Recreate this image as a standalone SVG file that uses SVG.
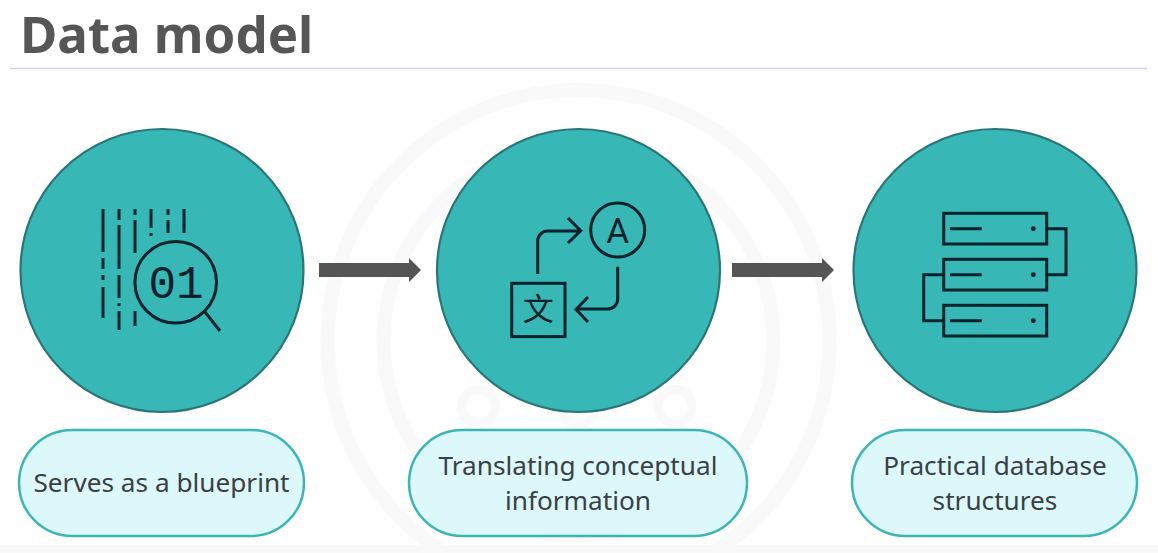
<svg xmlns="http://www.w3.org/2000/svg" width="1158" height="553" viewBox="0 0 1158 553">
<defs>
<style>
.main{fill:#38b7b7;stroke:#2a7577;stroke-width:2.2}
.pill{fill:#dcf8fa;stroke:#3db5b5;stroke-width:2.5}
.label{font-family:"Noto Sans","Liberation Sans",sans-serif;font-size:26.2px;fill:#3b4046;text-anchor:middle}
.ic{fill:none;stroke:#06222a;stroke-width:3}
.ring{fill:none;stroke:#f9f9fa}
.arrow{fill:#555}
.glyph{fill:#06222a;text-anchor:middle}
</style>
</defs>
<rect width="1158" height="553" fill="#fefefe"/>
<rect y="545" width="1158" height="8" fill="#f9f9f9"/>
<g id="watermark">
<circle class="ring" cx="578.5" cy="341" r="251" stroke-width="14"/>
<circle class="ring" cx="578.5" cy="341" r="195" stroke-width="14"/>
<circle class="ring" cx="478.500" cy="406.5" r="17" stroke-width="9"/>
<circle class="ring" cx="675" cy="406.5" r="17" stroke-width="9"/>
<circle class="ring" cx="578.5" cy="408" r="17" stroke-width="9"/>
</g>
<g id="title">
<text x="20" y="53" font-family="'Noto Sans','Liberation Sans',sans-serif" font-size="51px" font-weight="700" fill="#565656">Data model</text>
<line x1="10" y1="68.5" x2="1147" y2="68.5" stroke="#d5d2e8" stroke-width="1.5"/>
</g>
<g id="connectors">
<path class="arrow" d="M319 263H409V258L421 270L409 282V277H319Z"/>
<path class="arrow" d="M732 263H822V258L834 270L822 282V277H732Z"/>
</g>
<g id="node-blueprint">
<circle class="main" cx="162" cy="270.5" r="141.5"/>
<path class="ic" d="M103 209V252M103 258V269M103 275V280M103 287V318M119 209V220M119 225V269M119 275V298M119 303V306M119 311V330M135 209V215M135 220V253M135 311V326M151 209V228M151 233V236M168 209V215M168 220V233M184 209V233M205 312L220 331"/>
<circle class="ic" cx="175.7" cy="282.3" r="40.8"/>
<text class="glyph" x="176" y="298" font-family="'Liberation Mono',monospace" font-size="46px">01</text>
</g>
<g id="node-translate">
<circle class="main" cx="578.5" cy="270.5" r="141.5"/>
<circle class="ic" cx="617.7" cy="230" r="27"/>
<text class="glyph" x="617.7" y="243" font-family="Roboto,'Liberation Sans',sans-serif" font-size="35px">A</text>
<path class="ic" d="M537.7 274V241A10 10 0 0 1 547.7 231H580M568 218L580.7 230.7L568 243"/>
<path class="ic" d="M617.7 266.7V299A10 10 0 0 1 607.7 309H576M588 297L576 309.5L588 322"/>
<rect class="ic" x="511.7" y="283.3" width="53.3" height="53.3"/>
<text class="glyph" x="538.3" y="320" font-family="'Noto Sans CJK SC',sans-serif" font-size="31px">文</text>
</g>
<g id="node-database">
<circle class="main" cx="995" cy="270.5" r="141.5"/>
<rect class="ic" x="943.7" y="213.3" width="103" height="30.7"/>
<rect class="ic" x="943.7" y="259.3" width="103" height="30.7"/>
<rect class="ic" x="943.7" y="305.3" width="103" height="30.7"/>
<path class="ic" d="M950 228.7H981.7M950 274.7H981.7M950 320.7H981.7M1046.7 228.7H1066V274.7H1046.7M943.7 274.7H923.7V320.7H943.7"/>
<circle cx="1033.3" cy="228.7" r="2.4" fill="#06222a"/>
<circle cx="1033.3" cy="274.7" r="2.4" fill="#06222a"/>
<circle cx="1033.3" cy="320.7" r="2.4" fill="#06222a"/>
</g>
<g id="label-blueprint">
<rect class="pill" x="19" y="430" width="285" height="106" rx="53"/>
<text class="label" x="161.5" y="492">Serves as a blueprint</text>
</g>
<g id="label-translate">
<rect class="pill" x="409" y="430" width="338" height="106" rx="53"/>
<text class="label" x="578" y="475">Translating conceptual</text>
<text class="label" x="578" y="510">information</text>
</g>
<g id="label-database">
<rect class="pill" x="852" y="430" width="285" height="106" rx="53"/>
<text class="label" x="995" y="475">Practical database</text>
<text class="label" x="995" y="510">structures</text>
</g>
</svg>
